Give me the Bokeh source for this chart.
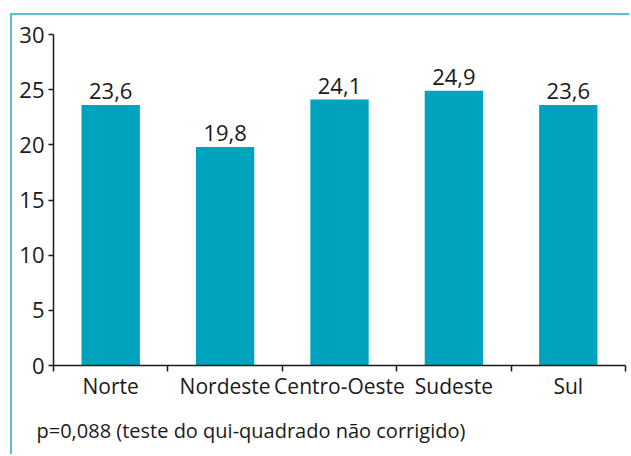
from bokeh.plotting import figure
from bokeh.models import FixedTicker, Title, ColumnDataSource
from bokeh.core.properties import value
from bokeh.embed import file_html
from bokeh.resources import INLINE

categories = ["Norte", "Nordeste", "Centro-Oeste", "Sudeste", "Sul"]
values = [23.6, 19.8, 24.1, 24.9, 23.6]
value_labels = ["23,6", "19,8", "24,1", "24,9", "23,6"]
y_ticks = [0, 5, 10, 15, 20, 25, 30]
footnote = "p=0,088 (teste do qui-quadrado não corrigido)"

FONT = "Open Sans"
BAR = "#00A3BE"
INK = "#1a1a1a"

centers = [i + 0.5 for i in range(len(categories))]
src = ColumnDataSource(dict(x=centers, top=values, lab=value_labels))

# figure host offset by (10, 13) with a cyan border on left/top
p = figure(width=619, height=441, output_backend="svg", toolbar_location=None,
           x_range=(0, len(categories)), y_range=(0, 30),
           min_border_left=41, min_border_right=6, min_border_top=19, min_border_bottom=91)
p.styles = {"position": "absolute", "left": "10px", "top": "13px",
            "border-left": "2px solid #4FC2D6", "border-top": "2px solid #4FC2D6"}
p.outline_line_color = None
p.grid.visible = False

p.vbar(x="x", top="top", width=0.51, source=src, fill_color=BAR, line_color=None)
p.text(x="x", y="top", text="lab", source=src, text_align="center", text_baseline="bottom",
       y_offset=-6, text_font_size="22px", text_font=value(FONT), text_color=INK)

xa = p.xaxis[0]
xa.ticker = FixedTicker(ticks=centers, minor_ticks=list(range(len(categories) + 1)))
xa.major_label_overrides = {c: n for c, n in zip(centers, categories)}
xa.major_tick_out = 0
xa.major_tick_in = 0
xa.minor_tick_out = 6
xa.minor_tick_in = 0
xa.minor_tick_line_color = INK
xa.minor_tick_line_width = 1.5
xa.axis_line_color = INK
xa.axis_line_width = 1.5
xa.major_label_text_font = FONT
xa.major_label_text_font_size = "21px"
xa.major_label_text_color = INK
xa.major_label_standoff = 0

ya = p.yaxis[0]
ya.ticker = FixedTicker(ticks=y_ticks)
ya.minor_tick_line_color = None
ya.major_tick_out = 5
ya.major_tick_in = 0
ya.major_tick_line_color = INK
ya.major_tick_line_width = 1.5
ya.axis_line_color = INK
ya.axis_line_width = 1.5
ya.major_label_text_font = FONT
ya.major_label_text_font_size = "22px"
ya.major_label_text_color = INK
ya.major_label_standoff = 4

p.add_layout(Title(text=footnote, align="left", offset=-17, standoff=24,
                   text_font=FONT, text_font_size="20px", text_font_style="normal",
                   text_color=INK), "below")

open("out.html", "w").write(file_html(p, INLINE))
